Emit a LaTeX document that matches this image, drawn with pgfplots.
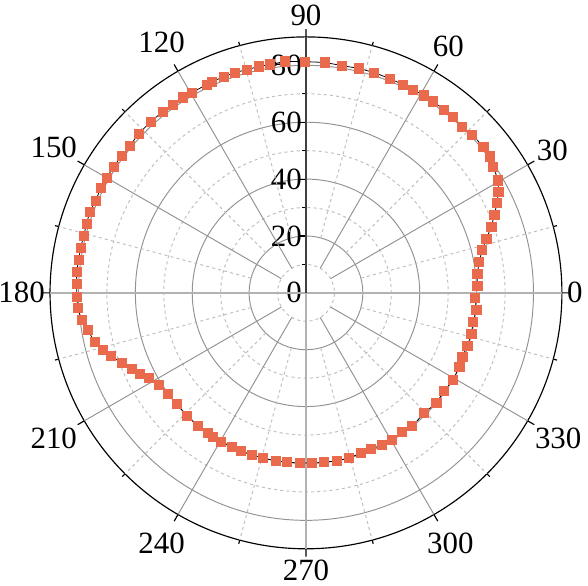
\documentclass[border=0pt]{standalone}
\usepackage{fontspec}
\setmainfont{Liberation Serif}
\usepackage{pgfplots}
\usepgfplotslibrary{polar}
\pgfplotsset{compat=1.18}
\definecolor{mk}{RGB}{233,106,76}
\begin{document}
\begin{tikzpicture}
\begin{polaraxis}[
  scale only axis, width=265pt, height=265pt,
  xmin=90, xmax=450, ymin=0, ymax=90,
  xtick={90,120,...,420},
  xticklabels={90,120,150,180,210,240,270,300,330,0,30,60},
  minor xtick={105,135,...,435},
  ytick={0,20,40,60,80},
  minor ytick={10,30,50,70},
  xmajorgrids=false, xminorgrids=false,
  ymajorgrids, yminorgrids,
  major grid style={gray!85, line width=0.5pt},
  minor grid style={gray!50, dash pattern=on 1.6pt off 1.6pt, line width=0.5pt},
  /pgf/number format/assume math mode=true,
  tick label style={font=\fontsize{16}{18}\selectfont},
  xticklabel style={inner xsep=2.5pt, inner ysep=5.5pt},
  yticklabel style={inner xsep=2pt},
  axis line style={black, line width=0.6pt},
  xtick align=inside, ytick align=inside,
  major tick length=4pt, minor tick length=2pt,
  tick style={black, line width=0.6pt},
]
\pgfplotsinvokeforeach{30,60,120,150,210,240,300,330}{
  \draw[gray!85, line width=0.5pt] (axis cs:#1,10) -- (axis cs:#1,90);
}
\pgfplotsinvokeforeach{15,45,75,105,135,165,195,225,255,285,315,345}{
  \draw[gray!50, dash pattern=on 1.6pt off 1.6pt, line width=0.5pt] (axis cs:#1,20) -- (axis cs:#1,90);
}
\pgfplotsinvokeforeach{0,180,270}{
  \draw[gray!60, line width=0.9pt] (axis cs:#1,0) -- (axis cs:#1,90);
}
\draw[black!75, line width=0.8pt] (axis cs:90,0) -- (axis cs:90,90);
\addplot[black, line width=0.4pt, mark=square*, mark size=2.4pt,
  mark options={draw=mk, fill=mk, solid}] coordinates {
(2.3,60.3)(6.3,60.6)(10.2,61.9)(13.7,63.8)(16.7,66.2)(19.6,69.2)(22.5,71.7)(25.2,74.3)(27.7,76.4)(30.3,78.3)(34.0,79.4)(36.5,80.6)(39.5,80.8)(43.6,80.7)(46.8,80.2)(50.1,80.7)(53.0,80.7)(56.4,80.8)(59.1,80.9)(62.2,80.8)(65.0,80.8)(68.6,80.9)(72.8,81.1)(76.7,81.1)(81.0,80.9)(85.3,81.3)(90.2,81.3)(95.2,81.7)(99.0,81.3)(101.7,81.3)(104.8,81.2)(107.9,81.4)(110.8,81.3)(114.0,81.3)(115.5,81.1)(119.7,81.1)(122.2,81.2)(125.3,81.1)(128.3,81.2)(132.2,81.3)(136.4,81.2)(140.1,80.7)(143.3,80.8)(146.7,80.9)(150.0,80.9)(152.9,81.1)(156.3,80.7)(159.4,81.2)(162.5,80.9)(165.6,80.7)(168.7,80.8)(171.7,80.8)(174.8,81.0)(177.7,80.7)(181.0,80.6)(183.8,80.5)(186.9,79.4)(189.6,77.9)(193.1,76.3)(195.7,74.2)(197.9,72.2)(200.8,69.3)(203.6,66.9)(206.0,65.0)(208.4,62.9)(212.0,61.1)(216.2,60.2)(220.7,59.9)(226.0,60.3)(230.9,60.3)(235.0,60.2)(237.1,60.4)(240.3,60.4)(244.3,60.2)(247.6,60.2)(251.6,60.1)(255.4,60.0)(259.9,60.1)(263.6,59.9)(268.0,59.9)(272.0,59.9)(276.1,59.9)(280.5,60.1)(284.6,60.0)(289.0,59.6)(292.6,59.5)(296.6,59.8)(300.3,60.0)(304.6,59.5)(308.6,59.9)(314.5,59.3)(319.8,60.0)(324.6,59.6)(329.4,60.1)(334.2,59.9)(337.7,59.4)(341.8,59.7)(346.0,59.9)(350.1,59.7)(354.3,60.2)(358.3,59.5)
};
\end{polaraxis}
\pgfresetboundingbox
\path[use as bounding box] ([shift={(-158.4pt,-151.6pt)}]current axis.center) rectangle ([shift={(146.0pt,151.6pt)}]current axis.center);
\end{tikzpicture}
\end{document}
